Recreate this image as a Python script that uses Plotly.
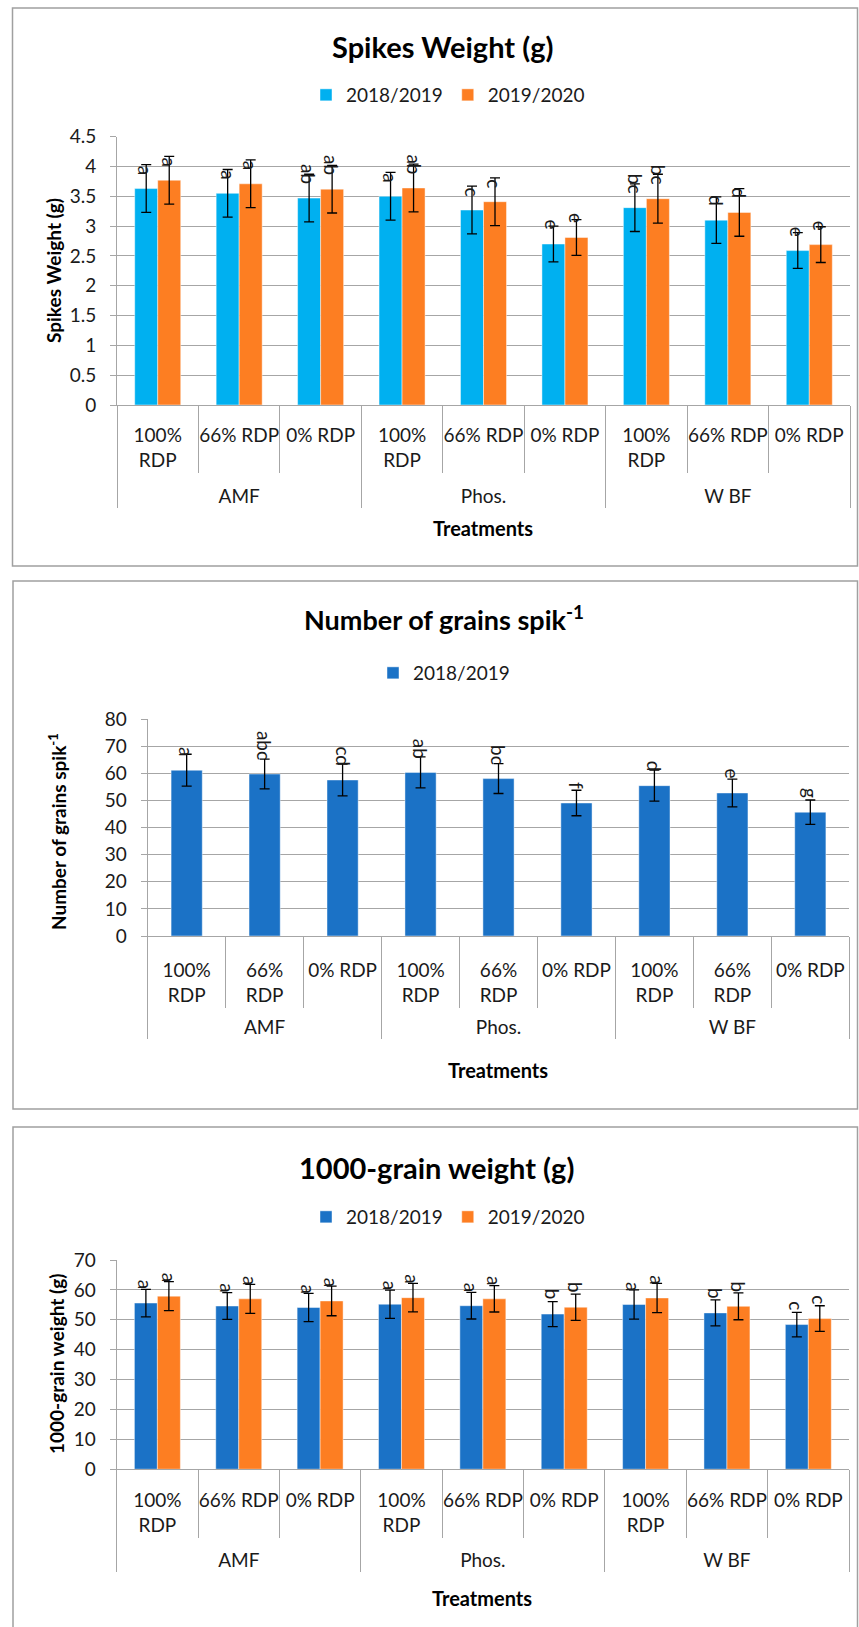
import plotly.graph_objects as go

W, H = 859, 1627

# ---- categories ----
groups = ["AMF", "AMF", "AMF", "Phos.", "Phos.", "Phos.", "W BF", "W BF", "W BF"]
rdp_wide = ["100%<br>RDP", "66% RDP", "0% RDP"] * 3
rdp_narrow = ["100%<br>RDP", "66%<br>RDP", "0% RDP"] * 3
seasons = ["2018/2019", "2019/2020"]

# ---- Spikes weight (g) ----
spike_s1 = [3.63, 3.55, 3.47, 3.50, 3.27, 2.70, 3.31, 3.10, 2.59]
spike_s2 = [3.77, 3.71, 3.62, 3.64, 3.41, 2.81, 3.46, 3.23, 2.69]
spike_err_s1 = [0.40, 0.40, 0.40, 0.40, 0.40, 0.30, 0.40, 0.39, 0.30]
spike_err_s2 = [0.40, 0.40, 0.40, 0.40, 0.40, 0.30, 0.41, 0.40, 0.30]
spike_let_s1 = ["a", "a", "ab", "a", "c", "e", "bc", "d", "e"]
spike_let_s2 = ["a", "a", "ab", "ab", "c", "e", "bc", "d", "e"]

# ---- Number of grains per spike ----
grains_s1 = [61.2, 59.8, 57.6, 60.4, 58.1, 49.1, 55.5, 52.8, 45.7]
grains_err_s1 = [5.9, 5.5, 5.9, 5.7, 5.5, 4.7, 5.7, 5.1, 4.5]
grains_let_s1 = ["a", "abc", "cd", "ab", "bc", "f", "d", "e", "g"]

# ---- 1000-grain weight (g) ----
tgw_s1 = [55.6, 54.6, 54.1, 55.2, 54.7, 51.9, 55.1, 52.3, 48.4]
tgw_s2 = [57.9, 57.0, 56.3, 57.4, 57.0, 54.2, 57.3, 54.5, 50.4]
tgw_err_s1 = [4.6, 4.45, 4.7, 4.7, 4.45, 4.2, 4.9, 4.35, 4.1]
tgw_err_s2 = [4.85, 4.85, 4.95, 4.75, 4.4, 4.4, 4.9, 4.5, 4.3]
tgw_let_s1 = ["a", "a", "a", "a", "a", "b", "a", "b", "c"]
tgw_let_s2 = ["a", "a", "a", "a", "a", "b", "a", "b", "c"]

# ---- styling ----
FONT = "Lato"
LIGHT_BLUE = "#00B0F0"
BLUE = "#1B72C6"
ORANGE = "#FD7E22"
GRID = "#a6a6a6"
FRAME = "#a0a0a0"
TEXT = "#1a1a1a"
BARGAP = 0.435
NARROW_WIDTH = 0.40

# outer category row sits one text line lower than the inner row
outer_labels = ["<br>" + g for g in groups]


def px(x):
    return x / W


def py(y):
    return 1 - y / H


def err(vals):
    return dict(type="data", array=vals, visible=True, color="black",
                thickness=1.3, width=5)


def bar(name, cats, vals, errs, color, xa, ya, legend, width=None):
    return go.Bar(
        name=name, x=[outer_labels, cats], y=vals, error_y=err(errs),
        marker=dict(color=color, line=dict(color="rgba(255,255,255,0.45)", width=1)),
        xaxis=xa, yaxis=ya, legend=legend, width=width,
    )


fig = go.Figure()
fig.add_trace(bar(seasons[0], rdp_wide, spike_s1, spike_err_s1, LIGHT_BLUE, "x", "y", "legend"))
fig.add_trace(bar(seasons[1], rdp_wide, spike_s2, spike_err_s2, ORANGE, "x", "y", "legend"))
fig.add_trace(bar(seasons[0], rdp_narrow, grains_s1, grains_err_s1, BLUE, "x2", "y2", "legend2",
                  width=NARROW_WIDTH))
fig.add_trace(bar(seasons[0], rdp_wide, tgw_s1, tgw_err_s1, BLUE, "x3", "y3", "legend3"))
fig.add_trace(bar(seasons[1], rdp_wide, tgw_s2, tgw_err_s2, ORANGE, "x3", "y3", "legend3"))


def xaxis(x0, x1, anchor, standoff=12, ticklen=67):
    return dict(
        domain=[px(x0), px(x1)], anchor=anchor, type="multicategory",
        showline=True, linecolor=GRID, linewidth=1,
        ticks="outside", tickson="boundaries", ticklen=ticklen, tickcolor=GRID, tickwidth=1,
        ticklabelstandoff=standoff, tickangle=0,
        showdividers=True, dividercolor=GRID, dividerwidth=1,
        showgrid=False, automargin=False,
        tickfont=dict(family=FONT, size=19, color=TEXT),
    )


def yaxis(y0, y1, top, step, anchor):
    return dict(
        domain=[py(y0), py(y1)], anchor=anchor, range=[0, top], dtick=step,
        showline=True, linecolor=GRID, linewidth=1,
        ticks="outside", ticklen=6, tickcolor=GRID, ticklabelstandoff=10,
        showgrid=True, gridcolor=GRID, gridwidth=1, zeroline=False,
        automargin=False,
        tickfont=dict(family=FONT, size=19, color=TEXT),
    )


def legend(x, y):
    return dict(orientation="h", x=px(x), xanchor="left", y=py(y), yanchor="middle",
                font=dict(family=FONT, size=19, color=TEXT), bgcolor="rgba(0,0,0,0)",
                itemwidth=30, traceorder="normal")


annotations = []


def text(x, y, s, size, angle=0):
    annotations.append(dict(x=px(x), y=py(y), xref="paper", yref="paper", text=s,
                            showarrow=False, textangle=angle,
                            xanchor="center", yanchor="middle",
                            font=dict(family=FONT, size=size, color="black")))


def letters(vals, labs, offset, xa, ya):
    for i, (v, lab) in enumerate(zip(vals, labs)):
        annotations.append(dict(x=i + offset, y=v, xref=xa, yref=ya, text=lab,
                                textangle=90, showarrow=False, xanchor="center",
                                yanchor="bottom", yshift=12,
                                font=dict(family=FONT, size=19, color=TEXT)))


slot = (1 - BARGAP) / 4
letters(spike_s1, spike_let_s1, -slot, "x", "y")
letters(spike_s2, spike_let_s2, slot, "x", "y")
letters(grains_s1, grains_let_s1, 0, "x2", "y2")
letters(tgw_s1, tgw_let_s1, -slot, "x3", "y3")
letters(tgw_s2, tgw_let_s2, slot, "x3", "y3")

# chart titles
text(442, 47, "<b>Spikes Weight (g)</b>", 29)
text(444, 618, "<b>Number of grains spik<sup>-1</sup></b>", 27)
text(436, 1167, "<b>1000-grain weight (g)</b>", 29)
# axis titles
text(54, 271, "<b>Spikes Weight (g)</b>", 19, -90)
text(57, 832, "<b>Number of grains spik<sup>-1</sup></b>", 19, -90)
text(56, 1364, "<b>1000-grain weight (g)</b>", 19, -90)
text(483, 528, "<b>Treatments</b>", 20)
text(498, 1070, "<b>Treatments</b>", 20)
text(482, 1598, "<b>Treatments</b>", 20)

# chart frames
shapes = [
    dict(type="rect", xref="paper", yref="paper", x0=px(12.5), x1=px(857.5),
         y0=py(566), y1=py(8), line=dict(color=FRAME, width=1.5)),
    dict(type="rect", xref="paper", yref="paper", x0=px(13), x1=px(857.5),
         y0=py(1109), y1=py(581), line=dict(color=FRAME, width=1.5)),
    dict(type="rect", xref="paper", yref="paper", x0=px(13), x1=px(857.5),
         y0=-0.02, y1=py(1127), line=dict(color=FRAME, width=1.5)),
]

fig.update_layout(
    width=W, height=H, margin=dict(l=0, r=0, t=0, b=0),
    paper_bgcolor="white", plot_bgcolor="white",
    barmode="group", bargap=BARGAP, bargroupgap=0,
    font=dict(family=FONT, color=TEXT),
    xaxis=xaxis(117, 850, "y", standoff=13, ticklen=67),
    yaxis=yaxis(405, 136.7, 4.5, 0.5, "x"),
    xaxis2=xaxis(147.7, 849.3, "y2", standoff=17, ticklen=71),
    yaxis2=yaxis(936, 719.3, 80, 10, "x2"),
    xaxis3=xaxis(116.7, 849, "y3", standoff=14, ticklen=68),
    yaxis3=yaxis(1469.2, 1260, 70, 10, "x3"),
    legend=legend(306, 95),
    legend2=legend(373, 673),
    legend3=legend(306, 1217),
    annotations=annotations,
    shapes=shapes,
)

fig.write_html("out.html")
